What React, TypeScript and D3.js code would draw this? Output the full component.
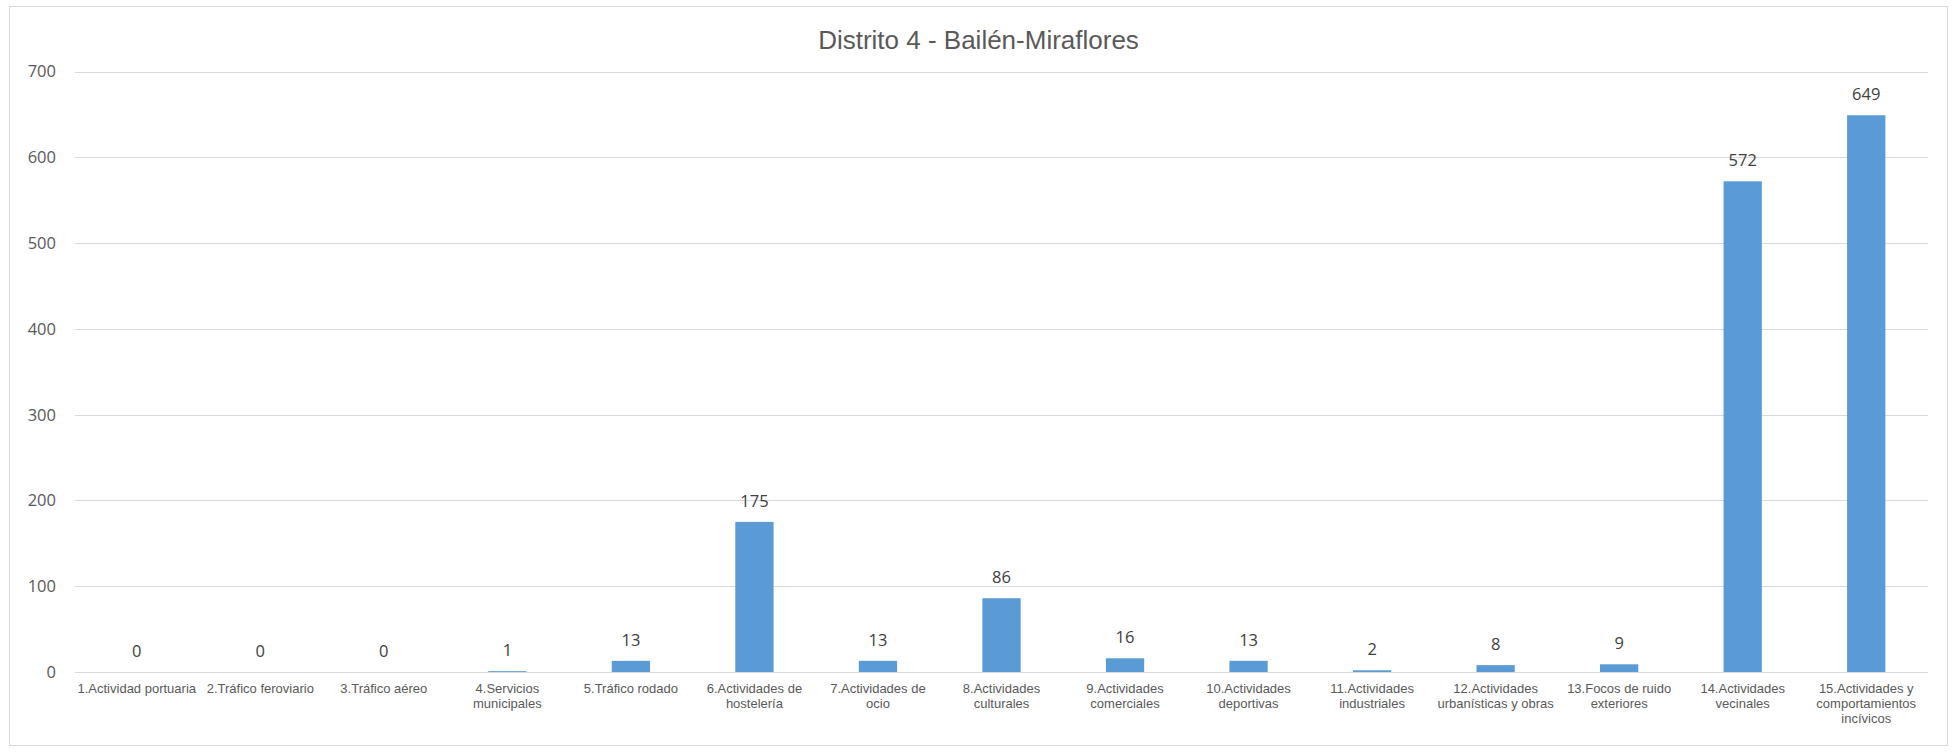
import React from "react";
import * as d3 from "d3";

const title = "Distrito 4 - Bailén-Miraflores";
const categories = [
  "1.Actividad portuaria",
  "2.Tráfico feroviario",
  "3.Tráfico aéreo",
  "4.Servicios municipales",
  "5.Tráfico rodado",
  "6.Actividades de hostelería",
  "7.Actividades de ocio",
  "8.Actividades culturales",
  "9.Actividades comerciales",
  "10.Actividades deportivas",
  "11.Actividades industriales",
  "12.Actividades urbanísticas y obras",
  "13.Focos de ruido exteriores",
  "14.Actividades vecinales",
  "15.Actividades y comportamientos incívicos",
];
const values = [0, 0, 0, 1, 13, 175, 13, 86, 16, 13, 2, 8, 9, 572, 649];
const yTicks = [0, 100, 200, 300, 400, 500, 600, 700];

const W = 1952;
const H = 752;
const plotLeft = 75;
const plotRight = 1928;
const plotTop = 71.5;
const plotBottom = 672;

const catFont = "13px 'Liberation Sans', Arial, sans-serif";
const numFont = "'Open Sans', sans-serif";

let ctx: CanvasRenderingContext2D | null = null;
function measure(text: string): number {
  if (!ctx) {
    const c = document.createElement("canvas");
    ctx = c.getContext("2d");
  }
  if (!ctx) return text.length * 6.5;
  ctx.font = catFont;
  return ctx.measureText(text).width;
}

function wrap(text: string, maxW: number): string[] {
  const words = text.split(" ");
  const lines: string[] = [];
  let cur = "";
  for (const w of words) {
    const t = cur ? cur + " " + w : w;
    if (cur && measure(t) > maxW) {
      lines.push(cur);
      cur = w;
    } else {
      cur = t;
    }
  }
  if (cur) lines.push(cur);
  return lines;
}

export default function App() {
  const x = d3
    .scaleBand<string>()
    .domain(categories)
    .range([plotLeft, plotRight])
    .paddingInner(0.69)
    .paddingOuter(0.345);
  const y = d3.scaleLinear().domain([0, 700]).range([plotBottom, plotTop]);
  const step = x.step();

  return (
    <svg
      width={W}
      height={H}
      style={{ position: "absolute", left: 0, top: 0, background: "#fff" }}
    >
      <rect x={9.5} y={6.5} width={1938} height={739} fill="#fff" stroke="#d9d9d9" strokeWidth={1} />
      <text
        x={978.5}
        y={49}
        textAnchor="middle"
        fontFamily="'Liberation Sans', Arial, sans-serif"
        fontSize={26}
        fill="#595959"
      >
        {title}
      </text>
      {yTicks.map((t) => (
        <g key={t}>
          <line
            x1={plotLeft}
            x2={plotRight}
            y1={Math.round(y(t)) + 0.5}
            y2={Math.round(y(t)) + 0.5}
            stroke="#d9d9d9"
            strokeWidth={1}
          />
          <text
            x={56}
            y={y(t)}
            dy="0.36em"
            textAnchor="end"
            fontFamily={numFont}
            fontSize={16.5}
            fill="#595959"
          >
            {t}
          </text>
        </g>
      ))}
      {categories.map((c, i) => {
        const v = values[i];
        const bx = x(c) as number;
        const bw = x.bandwidth();
        const cx = bx + bw / 2;
        const top = y(v);
        const lines = wrap(c, step - 2);
        return (
          <g key={c}>
            <rect x={bx} y={top} width={bw} height={plotBottom - top} fill="#5b9bd5" />
            <text
              x={cx}
              y={top - 15}
              textAnchor="middle"
              fontFamily={numFont}
              fontSize={16.5}
              fill="#404040"
            >
              {v}
            </text>
            <text
              x={cx}
              y={692.5}
              textAnchor="middle"
              fontFamily="'Liberation Sans', Arial, sans-serif"
              fontSize={13}
              fill="#595959"
            >
              {lines.map((l, k) => (
                <tspan key={k} x={cx} dy={k === 0 ? 0 : 15}>
                  {l}
                </tspan>
              ))}
            </text>
          </g>
        );
      })}
    </svg>
  );
}
